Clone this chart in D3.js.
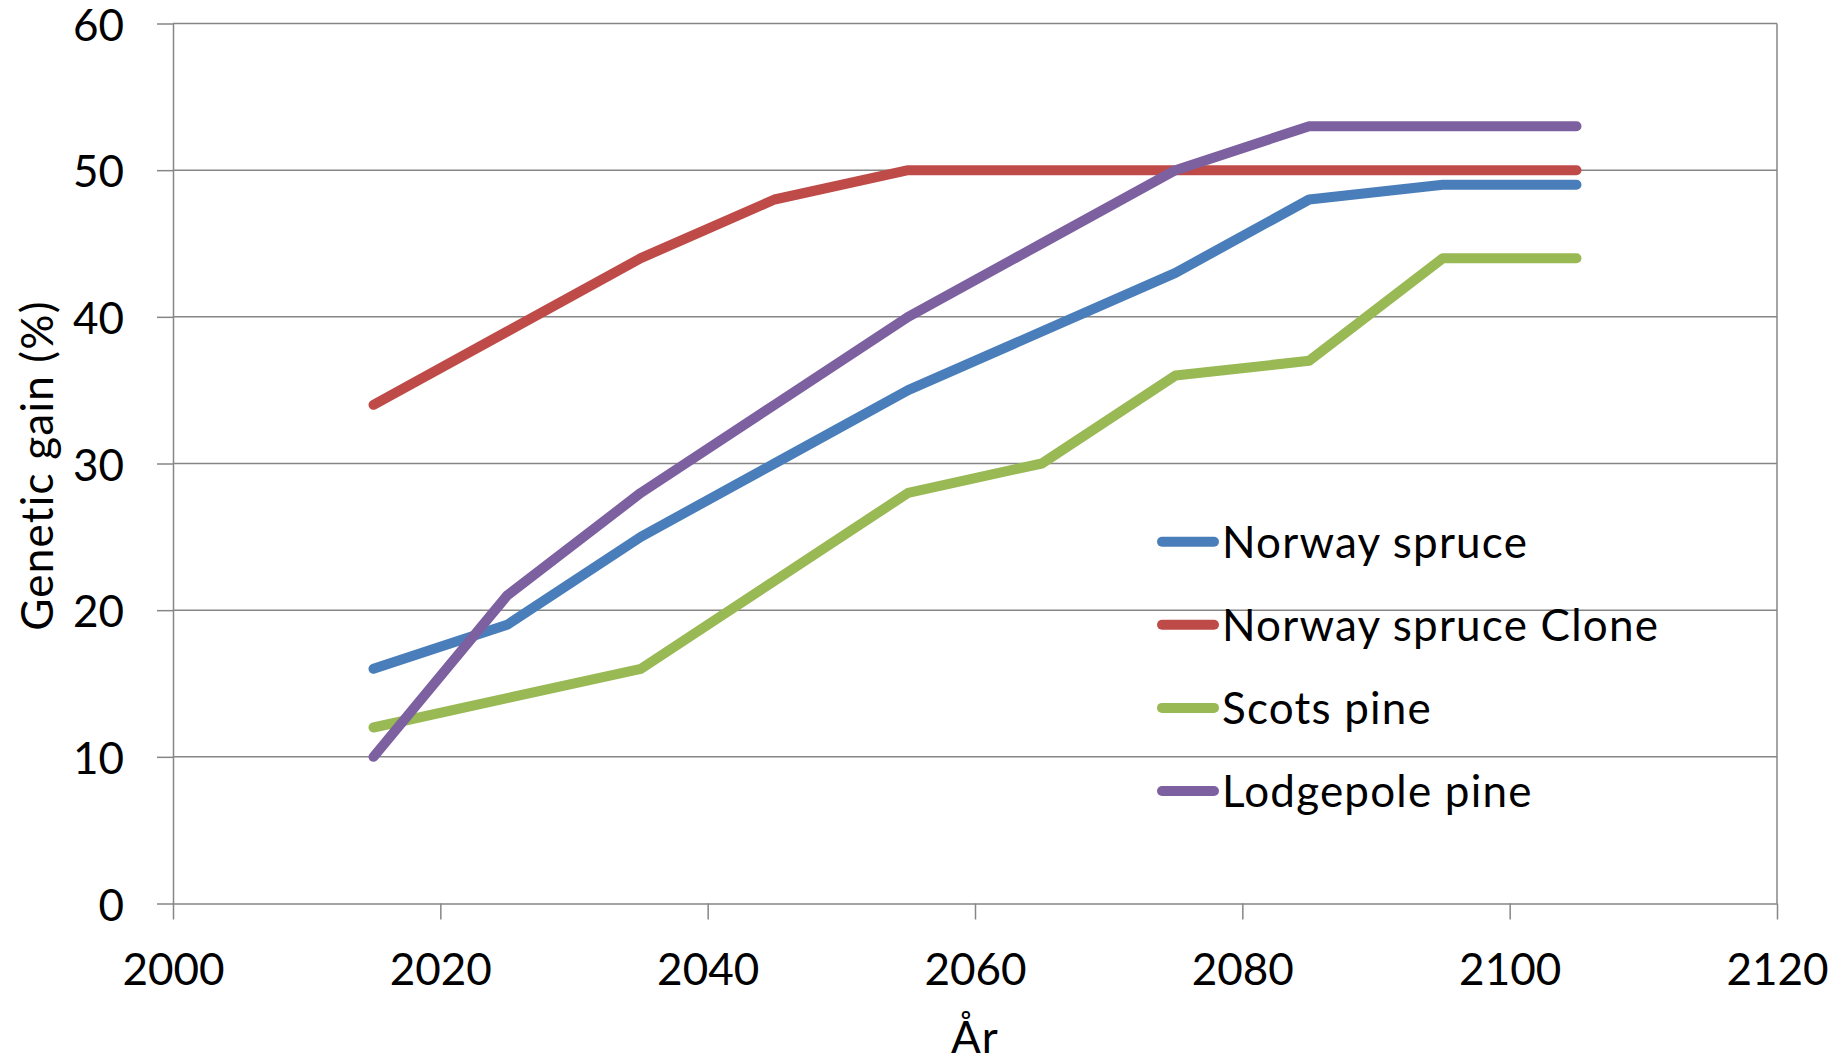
<!DOCTYPE html>
<html>
<head>
<meta charset="utf-8">
<script src="https://cdn.jsdelivr.net/npm/d3@7"></script>
<style>
  html, body { margin: 0; padding: 0; background: #fff; }
  svg { display: block; font-family: Lato, "Open Sans", sans-serif; }
</style>
</head>
<body>
<svg id="chart" width="1845" height="1061"></svg>
<script>
// Projected genetic gain per breeding generation
const years = [2015, 2025, 2035, 2045, 2055, 2065, 2075, 2085, 2095, 2105];
const norwaySpruce      = [16, 19, 25, 30, 35, 39, 43, 48, 49, 49];
const norwaySpruceClone = [34, 39, 44, 48, 50, 50, 50, 50, 50, 50];
const scotsPine         = [12, 14, 16, 22, 28, 30, 36, 37, 44, 44];
const lodgepolePine     = [10, 21, 28, 34, 40, 45, 50, 53, 53, 53];

const seriesNames  = ["Norway spruce", "Norway spruce Clone", "Scots pine", "Lodgepole pine"];
const seriesValues = [norwaySpruce, norwaySpruceClone, scotsPine, lodgepolePine];
const seriesColors = ["#4A7EBB", "#BE4B48", "#98B954", "#7D60A0"];

const xTicks = [2000, 2020, 2040, 2060, 2080, 2100, 2120];
const yTicks = [0, 10, 20, 30, 40, 50, 60];

const xTitle = "År";
const yTitle = "Genetic gain (%)";

const svg = d3.select("#chart");
const plotLeft = 173, plotRight = 1777, plotTop = 23.5, plotBottom = 903.5;
const gridColor = "#868686";
const fontSize = 44;
const fontFamily = "Lato, 'Open Sans', sans-serif";
const wordSpacing = "1.2px";

const x = d3.scaleLinear().domain([2000, 2120]).range([plotLeft, plotRight]);
const y = d3.scaleLinear().domain([0, 60]).range([plotBottom, plotTop]);

// horizontal gridlines
svg.append("g")
  .selectAll("line")
  .data(yTicks.filter(d => d !== 0))
  .join("line")
  .attr("x1", plotLeft).attr("x2", plotRight)
  .attr("y1", d => y(d)).attr("y2", d => y(d))
  .attr("stroke", gridColor).attr("stroke-width", 1.5);

// right border of the plot area
svg.append("line")
  .attr("x1", plotRight).attr("x2", plotRight)
  .attr("y1", plotTop).attr("y2", plotBottom)
  .attr("stroke", gridColor).attr("stroke-width", 1.5);

// x axis
const xAxis = svg.append("g")
  .attr("transform", `translate(0,${plotBottom})`)
  .call(d3.axisBottom(x).tickValues(xTicks).tickFormat(d3.format("d")).tickSize(16).tickSizeOuter(0).tickPadding(34));
xAxis.select(".domain").attr("stroke", gridColor).attr("stroke-width", 1.5);
xAxis.selectAll(".tick line").attr("stroke", gridColor).attr("stroke-width", 1.5);
xAxis.selectAll(".tick text")
  .attr("font-size", fontSize).attr("font-family", fontFamily).attr("fill", "#000");

// y axis
const yAxis = svg.append("g")
  .attr("transform", `translate(${plotLeft},0)`)
  .call(d3.axisLeft(y).tickValues(yTicks).tickFormat(d3.format("d")).tickSize(16).tickSizeOuter(0).tickPadding(33));
yAxis.select(".domain").attr("stroke", gridColor).attr("stroke-width", 1.5);
yAxis.selectAll(".tick line").attr("stroke", gridColor).attr("stroke-width", 1.5);
yAxis.selectAll(".tick text")
  .attr("font-size", fontSize).attr("font-family", fontFamily).attr("fill", "#000")
  .attr("dy", "0.38em");

// axis titles
svg.append("text")
  .attr("x", (plotLeft + plotRight) / 2).attr("y", 1053)
  .attr("text-anchor", "middle")
  .attr("font-size", fontSize).attr("fill", "#000")
  .attr("letter-spacing", wordSpacing)
  .text(xTitle);

svg.append("text")
  .attr("transform", `translate(53,${(plotTop + plotBottom) / 2 + 2}) rotate(-90)`)
  .attr("text-anchor", "middle")
  .attr("font-size", fontSize).attr("fill", "#000")
  .attr("letter-spacing", wordSpacing)
  .text(yTitle);

// series lines
const line = d3.line()
  .x((d, i) => x(years[i]))
  .y(d => y(d));

svg.append("g")
  .selectAll("path")
  .data(seriesValues)
  .join("path")
  .attr("d", line)
  .attr("fill", "none")
  .attr("stroke", (d, i) => seriesColors[i])
  .attr("stroke-width", 10)
  .attr("stroke-linecap", "round")
  .attr("stroke-linejoin", "round");

// legend
const legend = svg.append("g");
const legendY0 = 541.7, legendStep = 83.1;
const items = legend.selectAll("g")
  .data(seriesNames)
  .join("g")
  .attr("transform", (d, i) => `translate(0,${legendY0 + i * legendStep})`);
items.append("line")
  .attr("x1", 1162).attr("x2", 1214)
  .attr("y1", 0).attr("y2", 0)
  .attr("stroke", (d, i) => seriesColors[i])
  .attr("stroke-width", 10)
  .attr("stroke-linecap", "round");
items.append("text")
  .attr("x", 1222).attr("y", 16)
  .attr("font-size", fontSize).attr("fill", "#000")
  .attr("letter-spacing", wordSpacing)
  .text(d => d);
</script>
</body>
</html>
